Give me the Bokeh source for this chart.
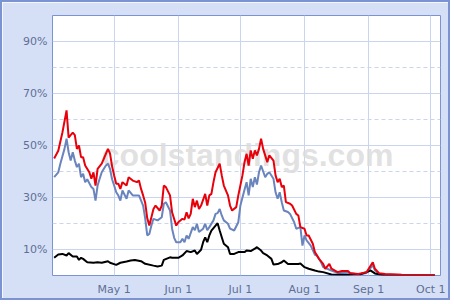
import pandas as pd
from bokeh.plotting import figure
from bokeh.models import FixedTicker, Grid, Label, Range1d
from bokeh.embed import file_html
from bokeh.resources import INLINE

YEAR = 2008

# ---- data (chance %) ----
red_dates = ["04-02", "04-04", "04-06", "04-08", "04-09", "04-11", "04-12", "04-13", "04-14", "04-15",
             "04-16", "04-17", "04-19", "04-20", "04-21", "04-22", "04-23", "04-25", "04-26", "04-28",
             "04-29", "04-30", "05-01", "05-02", "05-03", "05-04", "05-05", "05-07", "05-08", "05-10",
             "05-12", "05-13", "05-14", "05-15", "05-16", "05-17", "05-18", "05-20", "05-21", "05-23",
             "05-24", "05-25", "05-26", "05-28", "05-29", "05-31", "06-01", "06-03", "06-04", "06-05",
             "06-06", "06-07", "06-08", "06-09", "06-10", "06-11", "06-12", "06-14", "06-15", "06-16",
             "06-17", "06-18", "06-19", "06-21", "06-22", "06-23", "06-25", "06-26", "06-27", "06-29",
             "06-30", "07-02", "07-03", "07-04", "07-05", "07-06", "07-07", "07-08", "07-09", "07-10",
             "07-11", "07-12", "07-14", "07-15", "07-17", "07-18", "07-19", "07-20", "07-21", "07-22",
             "07-23", "07-25", "07-26", "07-28", "07-29", "07-30", "08-01", "08-02", "08-03", "08-05",
             "08-06", "08-08", "08-10", "08-11", "08-13", "08-14", "08-17", "08-19", "08-22", "08-23",
             "08-27", "08-31", "09-01", "09-03", "09-04", "09-06", "09-09", "09-17", "10-03"]
red_vals = [45, 48, 55, 63.5, 53, 55, 54, 48.7, 50, 45.5,
            45.5, 42.3, 39.7, 37.2, 39.7, 34.6, 41, 43, 44.9, 48.7,
            47, 42, 38.5, 35.3, 35.3, 33.3, 35.9, 34.6, 37.8, 36.5,
            35.9, 36.5, 33.3, 30.8, 28, 22, 19.2, 25.6, 26.9, 25,
            26.9, 34.6, 34, 30.8, 24.3, 19.2, 20.5, 21.8, 21.5, 24.3,
            22, 23.7, 29.5, 26.3, 28.8, 25.6, 26.9, 31.4, 26.9, 30.8,
            31.4, 35.9, 39.7, 43, 38.5, 34.6, 30.8, 26.9, 25, 26.3,
            30.8, 38.5, 43.6, 46.8, 42.3, 48.1, 44.9, 48.1, 46.2, 48.7,
            52.6, 48.7, 43.6, 46.2, 44.2, 38.5, 35.9, 37.2, 34, 34.6,
            28.2, 27.6, 26.9, 23.7, 23.1, 18.6, 18, 15.4, 15.4, 12.2,
            9, 6.4, 4.5, 2.6, 4.5, 2.6, 1.3, 1.7, 1.7, 0.9,
            0.6, 1.3, 2.6, 5.1, 2.6, 0.9, 0.6, 0.3, 0.1]

blue_dates = ["04-02", "04-04", "04-05", "04-07", "04-08", "04-09", "04-10", "04-11", "04-12", "04-13",
              "04-14", "04-15", "04-16", "04-17", "04-18", "04-20", "04-21", "04-22", "04-23", "04-24",
              "04-25", "04-27", "04-28", "04-29", "04-30", "05-01", "05-02", "05-03", "05-04", "05-05",
              "05-07", "05-08", "05-10", "05-12", "05-13", "05-15", "05-16", "05-17", "05-18", "05-19",
              "05-20", "05-22", "05-24", "05-25", "05-26", "05-28", "05-29", "05-30", "05-31", "06-01",
              "06-02", "06-03", "06-04", "06-05", "06-06", "06-08", "06-09", "06-10", "06-11", "06-13",
              "06-14", "06-15", "06-16", "06-18", "06-19", "06-20", "06-21", "06-22", "06-23", "06-25",
              "06-26", "06-28", "06-30", "07-01", "07-03", "07-04", "07-05", "07-06", "07-07", "07-08",
              "07-09", "07-10", "07-11", "07-13", "07-14", "07-15", "07-17", "07-18", "07-19", "07-20",
              "07-21", "07-22", "07-24", "07-25", "07-27", "07-28", "07-30", "07-31", "08-01", "08-02",
              "08-04", "08-06", "08-07", "08-09", "08-10", "08-12", "08-14", "08-17", "08-22", "08-27",
              "08-31", "09-01", "09-03", "09-04", "09-06", "09-09", "09-17", "10-03"]
blue_vals = [37.8, 39.7, 43, 48.7, 52.6, 47.4, 44.2, 47.4, 44.2, 41.7,
             43, 37.8, 39.1, 35.9, 37, 34, 33.3, 28.8, 34.6, 37.2,
             39.7, 42.3, 43, 41, 37, 34.6, 32, 30.8, 28.8, 32.7,
             29.5, 32.7, 30.8, 30.8, 30.8, 26.9, 22, 15.4, 16, 19.2,
             21.8, 21.2, 22.4, 27.6, 28.2, 25, 18, 14.5, 12.8, 12.8,
             12.8, 14.1, 12.8, 15.4, 14.1, 18.6, 17.4, 19.9, 16.7, 18,
             19.9, 17.4, 18.6, 21.2, 23.7, 24, 25.6, 23.1, 21.2, 19.9,
             18, 17.3, 20.5, 26.9, 33, 35.9, 30.8, 37.2, 34, 37.8,
             35, 39.7, 42.3, 37.8, 39.1, 39.7, 37.2, 32, 29.5, 32,
             28.2, 25, 24.4, 23.7, 20.5, 18, 18.6, 11.5, 15.4, 13.5,
             11.5, 8, 7.7, 5.1, 3.2, 2.6, 1.9, 1, 1.2, 0.4,
             1, 2, 4, 2, 0.6, 0.4, 0.2, 0]

black_dates = ["04-02", "04-04", "04-06", "04-08", "04-09", "04-11", "04-13", "04-14", "04-15", "04-16",
               "04-18", "04-21", "04-23", "04-25", "04-28", "04-29", "05-02", "05-04", "05-07", "05-09",
               "05-11", "05-14", "05-16", "05-20", "05-22", "05-24", "05-25", "05-28", "05-29", "06-01",
               "06-03", "06-05", "06-07", "06-09", "06-10", "06-12", "06-13", "06-14", "06-15", "06-16",
               "06-17", "06-19", "06-20", "06-21", "06-22", "06-23", "06-25", "06-26", "06-28", "06-30",
               "07-03", "07-04", "07-06", "07-08", "07-09", "07-11", "07-12", "07-14", "07-16", "07-17",
               "07-19", "07-21", "07-22", "07-24", "07-26", "07-29", "07-30", "08-01", "08-03", "08-06",
               "08-08", "08-10", "08-14", "08-17", "08-22", "08-25", "08-28", "08-31", "09-02", "09-04",
               "09-07", "09-10", "10-03"]
black_vals = [6.8, 8.1, 8.3, 7.7, 8.6, 7.3, 7.3, 6, 6.8, 6.4,
              5.1, 4.9, 5.1, 4.9, 5.5, 4.9, 4.1, 4.9, 5.4, 5.8,
              6, 5.5, 4.5, 3.8, 3.5, 3.8, 6, 7, 6.8, 6.8,
              7.7, 9.4, 9, 9.6, 8.3, 9.9, 12.8, 14.7, 12.8, 15.4,
              17.3, 19.2, 20.1, 17.3, 14.7, 12.2, 10.9, 8.3, 8.3, 9,
              9, 9.6, 9.4, 10.3, 10.9, 9.6, 8.6, 7.7, 6.4, 4.2,
              4.4, 5.1, 5.8, 4.4, 4.4, 4.4, 4.6, 3.2, 2.6, 1.9,
              1.5, 1.3, 0.4, 0.3, 0.3, 0.5, 0.5, 1.3, 1.9, 0.8,
              0.3, 0, 0]

x_tick_dates = ["05-01", "06-01", "07-01", "08-01", "09-01", "10-01"]
x_tick_labels = ["May 1", "Jun 1", "Jul 1", "Aug 1", "Sep 1", "Oct 1"]
y_tick_vals = [10, 30, 50, 70, 90]
y_tick_labels = ["10%", "30%", "50%", "70%", "90%"]
y_minor_vals = [20, 40, 60, 80]


def to_dt(mmdd):
    return pd.to_datetime([f"{YEAR}-{d}" for d in mmdd])


def ms(ts):
    return int(pd.Timestamp(ts).value // 10**6)


x_start = pd.Timestamp(f"{YEAR}-04-01 05:00")
x_end = pd.Timestamp(f"{YEAR}-10-05 17:00")

p = figure(width=450, height=300, x_axis_type="datetime",
           x_range=Range1d(x_start, x_end), y_range=Range1d(0, 100),
           output_backend="svg", toolbar_location=None,
           min_border_left=50, min_border_right=12, min_border_top=13, min_border_bottom=27)
p.styles = {"border": "2px solid #7b93d3"}

p.border_fill_color = "#d5e0f7"
p.background_fill_color = "#ffffff"
p.outline_line_color = "#7b93d3"
p.outline_line_width = 1

grid_col = "#c9d5ed"
xt = [ms(t) for t in to_dt(x_tick_dates)]
p.xaxis.ticker = FixedTicker(ticks=xt)
p.xaxis.major_label_overrides = {t: lab for t, lab in zip(xt, x_tick_labels)}
p.yaxis.ticker = FixedTicker(ticks=y_tick_vals)
p.yaxis.major_label_overrides = {v: lab for v, lab in zip(y_tick_vals, y_tick_labels)}

for ax in (p.xaxis[0], p.yaxis[0]):
    ax.axis_line_color = None
    ax.major_tick_line_color = None
    ax.minor_tick_line_color = None
    ax.major_tick_out = 0
    ax.major_tick_in = 0
    ax.major_label_text_font = "DejaVu Sans"
    ax.major_label_text_font_size = "11px"
    ax.major_label_text_color = "#5f6f94"
p.xaxis.major_label_standoff = 7
p.yaxis.major_label_standoff = 5

p.xgrid.ticker = FixedTicker(ticks=xt)
p.xgrid.grid_line_color = grid_col
p.ygrid.ticker = FixedTicker(ticks=y_tick_vals)
p.ygrid.grid_line_color = grid_col
p.add_layout(Grid(dimension=1, ticker=FixedTicker(ticks=y_minor_vals),
                  grid_line_color=grid_col, grid_line_dash="4 3"))

wm = Label(x=pd.Timestamp(f"{YEAR}-07-04 12:00"), y=46.5, text="coolstandings.com",
           text_align="center", text_baseline="alphabetic",
           text_font="Liberation Sans", text_font_style="bold",
           text_font_size="32px", text_color="#dcdcdc", text_alpha=0.85, level="underlay")
p.add_layout(wm)

p.line(to_dt(blue_dates), blue_vals, line_color="#6a84bd", line_width=2)
p.line(to_dt(black_dates), black_vals, line_color="#000000", line_width=2)
p.line(to_dt(red_dates), red_vals, line_color="#e8000b", line_width=2)

open("out.html", "w").write(file_html(p, INLINE))
